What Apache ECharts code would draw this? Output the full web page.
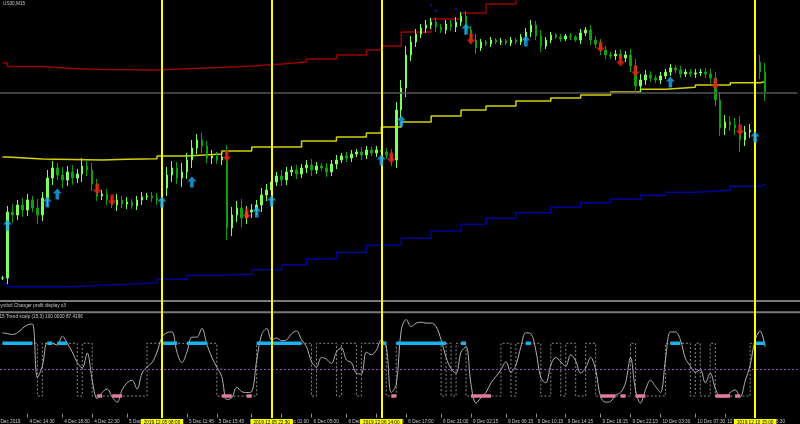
<!DOCTYPE html>
<html><head><meta charset="utf-8">
<script src="https://cdn.jsdelivr.net/npm/echarts@6/dist/echarts.min.js"></script>
<style>html,body{margin:0;padding:0;background:#000;}#c{width:800px;height:424px;}</style>
</head><body><div id="c"></div>
<script>
// ---- data ----
const barCount = 160;
const closes = [
27622,27688,27685,27695,27690,27700,27692,27685,27702,27722,
27732,27725,27720,27728,27722,27726,27734,27730,27716,27704,
27706,27700,27695,27700,27696,27698,27694,27700,27703,27704,
27702,27700,27712,27725,27732,27722,27728,27740,27752,27760,
27754,27742,27744,27740,27743,27672,27685,27692,27682,27688,
27690,27695,27705,27710,27718,27724,27720,27728,27730,27726,
27732,27735,27730,27734,27732,27728,27736,27740,27744,27742,
27746,27748,27745,27750,27747,27750,27748,27745,27740,27790,
27812,27845,27858,27866,27872,27875,27878,27873,27870,27876,
27873,27878,27884,27870,27860,27852,27858,27856,27860,27858,
27859,27857,27860,27858,27863,27868,27875,27864,27854,27860,
27865,27863,27861,27864,27863,27860,27867,27870,27860,27856,
27850,27845,27844,27846,27842,27845,27834,27814,27820,27825,
27822,27820,27824,27828,27832,27830,27826,27828,27826,27827,
27828,27826,27822,27800,27772,27778,27775,27772,27760,27768,
27770,27838,27828,27808];
// high/low reach of each bar beyond its open/close
const barReach = [
2,6,8,5,7,6,4,9,6,8,
7,5,8,6,7,5,8,6,7,5,
4,5,3,6,4,5,3,4,5,3,
4,5,6,8,7,6,9,7,8,6,
7,5,6,4,5,12,8,7,9,6,
6,5,7,6,5,4,6,5,4,5,
4,5,6,4,3,5,4,5,3,4,
4,3,5,4,3,4,5,4,6,8,
8,9,6,5,4,5,4,5,3,4,
4,5,4,5,4,6,3,2,3,2,
3,2,3,2,3,4,5,4,6,3,
3,2,3,2,3,2,4,3,5,4,
5,4,3,4,5,4,6,7,6,5,
4,3,4,3,4,3,4,3,3,4,
3,4,5,6,8,7,6,7,12,6,
6,8,7,9];
const upperBand = [[0,27837],[1,27833.5],[8,27831.5],[14,27830.5],[20,27830],[31,27831.5],[38,27832.5],[44,27834],[50,27836],[56,27838],[61,27841],[67,27845],[73,27850],[76,27854],[80,27868],[86,27881],[92,27887],[97,27896],[103,27905],[153,27905]];
const middleBand = [[0,27743],[1,27741],[8,27740],[20,27740.7],[25,27741.3],[31,27744],[37,27746],[44,27749],[50,27753],[60,27759],[67,27763],[73,27767],[76,27773],[80,27778],[86,27784],[92,27790],[97,27794],[103,27799],[110,27802],[116,27805],[122,27808],[128,27810.7],[133,27812.7],[139,27815],[146,27817.3],[152,27818.3],[153,27818.3]];
const lowerBand = [[0,27616],[1,27613.3],[14,27614.7],[20,27615.7],[25,27617.3],[31,27620.7],[37,27624.7],[44,27625.7],[50,27630.3],[56,27635.3],[61,27641],[67,27647.7],[73,27654.7],[80,27661.7],[86,27669],[92,27675.7],[97,27681.7],[103,27687.3],[110,27692.7],[116,27697.3],[122,27700.7],[128,27704.7],[133,27707.7],[139,27709.7],[146,27713.7],[152,27715.7],[153,27715.7]];
const upArrows = [[1,27675],[9,27698],[11,27706],[32,27698],[38,27718],[51,27688],[54,27699],[76,27740],[80,27779],[93,27871],[105,27859],[134,27818],[151,27763]];
const downArrows = [[19,27711],[22,27700],[45,27744],[49,27686],[78,27742],[94,27861],[120,27853],[124,27839],[127,27829],[143,27816],[148,27770]];
const blueDots = [[86,27895],[87,27889],[91,27891]];
const bidPrice = 27807;

const trendScalp = [
92,91,90,92,97,101,102,41,54,81,
80,78,88,80,70,58,52,69,38,17,
24,28,19,13,27,35,38,28,46,53,
58,70,87,92,93,70,58,70,87,87,
97,79,64,53,42,16,18,30,25,24,
25,61,90,97,84,86,83,84,91,94,
84,76,59,53,64,62,57,70,75,61,
58,46,45,70,67,72,84,76,24,33,
95,107,99,103,104,103,103,99,84,64,
51,46,70,76,33,12,18,24,35,42,
50,59,47,55,76,92,91,72,41,35,
55,64,59,54,67,60,46,52,64,50,
19,13,14,21,24,35,64,27,12,27,
38,31,24,61,93,93,84,63,54,47,
50,35,46,29,19,19,24,27,19,37,
55,84,94,76];
const trendState = [[0,80],[7,20],[8,80],[15,20],[16,80],[18,20],[29,80],[43,20],[51,80],[62,20],[63,80],[67,20],[68,80],[71,20],[72,80],[77,20],[79,80],[88,20],[89,80],[90,20],[91,80],[93,20],[100,80],[102,20],[103,80],[108,20],[110,80],[112,20],[113,80],[115,20],[117,80],[119,20],[126,80],[127,20],[133,80],[138,20],[139,80],[140,20],[142,80],[143,20],[150,80],[153,80]];
const upLevel = 80, downLevel = 20, midLevel = 50;
const upSegments = [[0,6],[9,10],[11,13],[32,35],[37,41],[51,60],[76,77],[79,89],[92,93],[105,106],[134,136],[151,153]];
const downSegments = [[19,20],[22,24],[44,46],[49,50],[78,79],[94,98],[120,123],[124,125],[127,129],[143,146],[147,148]];

const firstDateLabel = '4 Dec 2019';
const timeTicks = [[5,'4 Dec 14:30'],[12,'4 Dec 18:30'],[18,'4 Dec 22:30'],[25,'5 Dec 03:15'],[37,'5 Dec 11:45'],[43,'5 Dec 15:45'],[50,'5 Dec 19:45'],[56,'6 Dec 01:00'],[62,'6 Dec 05:00'],[69,'6 Dec 09:00'],[75,'6 Dec 13:00'],[81,'6 Dec 17:00'],[88,'6 Dec 21:00'],[94,'9 Dec 02:15'],[101,'9 Dec 06:15'],[107,'9 Dec 10:15'],[113,'9 Dec 14:15'],[120,'9 Dec 18:15'],[126,'9 Dec 22:15'],[132,'10 Dec 03:30'],[139,'10 Dec 07:30'],[145,'10 Dec 11:30'],[151,'10 Dec 15:30']];
const vlineBars = [32,54,76,151];
const vlineTimes = ['2019.12.05 08:00','2019.12.05 22:30','2019.12.06 14:00','2019.12.10 15:00'];

// ---- build ----
const cats = Array.from({length: barCount}, (_, i) => String(i));
const tickMap = new Map(timeTicks);
const candles = closes.map((c, i) => {
  const o = i ? closes[i - 1] : c;
  return [o, c, Math.min(o, c) - barReach[i], Math.max(o, c) + barReach[i]];
});
function segs(list, level) {
  const out = [];
  list.forEach(([a, b]) => { out.push([a, level], [b, level], [b, '-']); });
  return out;
}
const FONT = 'Liberation Sans';
const fs = 4.7;
const showTick = (idx) => tickMap.has(idx);
const arrowPath = 'path://M4.5,0 L9,5 L6.3,5 L6.3,11 L2.7,11 L2.7,5 L0,5 Z';

const chart = echarts.init(document.getElementById('c'), null, {renderer: 'canvas'});
chart.setOption({
  animation: false,
  backgroundColor: '#000000',
  textStyle: {fontFamily: FONT},
  grid: [
    {left: -2.5, right: 2.5, top: 0, height: 313},
    {left: -2.5, right: 2.5, top: 313, height: 105}
  ],
  xAxis: [
    {type: 'category', data: cats, gridIndex: 0, boundaryGap: true, show: false},
    {type: 'category', data: cats, gridIndex: 1, boundaryGap: true,
      axisLine: {show: false},
      axisTick: {show: true, interval: showTick, alignWithLabel: true, length: 4, lineStyle: {color: '#8a8a8a'}},
      axisLabel: {show: true, interval: showTick, align: 'left', margin: 1, padding: [0,0,0,2],
        color: '#c8c8c8', fontSize: fs, fontFamily: FONT,
        formatter: (v) => tickMap.get(Number(v)) || ''},
      splitLine: {show: false}}
  ],
  yAxis: [
    {type: 'value', gridIndex: 0, min: 27587, max: 27900, show: false},
    {type: 'value', gridIndex: 1, min: -5, max: 114.5, show: false}
  ],
  graphic: [
    {type: 'line', z: 0, shape: {x1: 0, y1: 301, x2: 800, y2: 301}, style: {stroke: '#7a7a7a', lineWidth: 2}},
    {type: 'line', z: 0, shape: {x1: 0, y1: 312.3, x2: 800, y2: 312.3}, style: {stroke: '#7a7a7a', lineWidth: 2}},
    {type: 'text', z: 100, x: 3, y: 4, style: {text: 'US30,M15', fill: '#c8c8c8', fontSize: fs, fontFamily: FONT, verticalAlign: 'middle'}},
    {type: 'text', z: 100, x: -3, y: 305.8, style: {text: 'Symbol Changer profit display x3', fill: '#c8c8c8', fontSize: fs, fontFamily: FONT, verticalAlign: 'middle'}},
    {type: 'text', z: 100, x: -4.5, y: 317, style: {text: 'M15 Trend scalp (15,3) 100.0000 87.4196', fill: '#c8c8c8', fontSize: fs, fontFamily: FONT, verticalAlign: 'middle'}},
    {type: 'text', z: 100, x: -3.5, y: 421.5, style: {text: firstDateLabel, fill: '#c8c8c8', fontSize: fs, fontFamily: FONT, verticalAlign: 'middle'}}
  ],
  series: [
    {type: 'line', name: 'upper', xAxisIndex: 0, yAxisIndex: 0, data: upperBand, step: 'end', symbol: 'none',
      lineStyle: {color: '#9a0000', width: 1.5}, z: 2},
    {type: 'line', name: 'middle', xAxisIndex: 0, yAxisIndex: 0, data: middleBand, step: 'end', symbol: 'none',
      lineStyle: {color: '#d2d200', width: 1.5}, z: 2},
    {type: 'line', name: 'lower', xAxisIndex: 0, yAxisIndex: 0, data: lowerBand, step: 'end', symbol: 'none',
      lineStyle: {color: '#00009c', width: 1.5}, z: 2},
    {type: 'candlestick', name: 'US30', xAxisIndex: 0, yAxisIndex: 0, data: candles, barWidth: 2,
      itemStyle: {color: '#7cff5c', color0: '#0ca00c', borderColor: '#7cff5c', borderColor0: '#0ca00c', borderWidth: 1},
      markLine: {silent: true, symbol: ['none','none'], label: {show: false},
        lineStyle: {color: '#555555', width: 1.5, type: 'solid'},
        data: [{yAxis: bidPrice}]},
      z: 3},
    {type: 'scatter', name: 'up', xAxisIndex: 0, yAxisIndex: 0, data: upArrows,
      symbol: arrowPath, symbolSize: [9, 11],
      itemStyle: {color: '#1ea8ee'}, z: 5},
    {type: 'scatter', name: 'down', xAxisIndex: 0, yAxisIndex: 0, data: downArrows,
      symbol: arrowPath, symbolSize: [9, 11], symbolRotate: 180,
      itemStyle: {color: '#f01a1a'}, z: 5},
    {type: 'scatter', name: 'dots', xAxisIndex: 0, yAxisIndex: 0, data: blueDots, symbolSize: 2.5,
      itemStyle: {color: '#1010c8'}, z: 5},
    {type: 'line', name: 'vlines0', xAxisIndex: 0, yAxisIndex: 0, data: [], z: 10,
      markLine: {silent: true, symbol: ['none','none'], label: {show: false},
        lineStyle: {color: '#ffff00', width: 2, type: 'solid'},
        data: vlineBars.map(b => ({xAxis: b}))}},
    // indicator
    {type: 'line', name: 'state', xAxisIndex: 1, yAxisIndex: 1, data: trendState, step: 'end', symbol: 'none',
      lineStyle: {color: '#8a8a8a', width: 1, type: [2, 2]}, z: 2,
      markLine: {silent: true, symbol: ['none','none'], label: {show: false},
        lineStyle: {color: '#9b45c8', width: 1, type: [2, 2]},
        data: [{yAxis: midLevel}]}},
    {type: 'line', name: 'scalp', xAxisIndex: 1, yAxisIndex: 1, data: trendScalp, symbol: 'none', smooth: 0.35,
      lineStyle: {color: '#b0b0b0', width: 1}, z: 3},
    {type: 'line', name: 'upSig', xAxisIndex: 1, yAxisIndex: 1, data: segs(upSegments, upLevel), symbol: 'none',
      connectNulls: false, lineStyle: {color: '#18b4f0', width: 3.5, cap: 'butt'}, z: 4},
    {type: 'line', name: 'downSig', xAxisIndex: 1, yAxisIndex: 1, data: segs(downSegments, downLevel), symbol: 'none',
      connectNulls: false, lineStyle: {color: '#e47aa2', width: 3.5, cap: 'butt'}, z: 4},
    {type: 'line', name: 'vlines1', xAxisIndex: 1, yAxisIndex: 1, data: [], z: 10,
      markLine: {silent: true, symbol: ['none','none'],
        lineStyle: {color: '#ffff00', width: 2, type: 'solid'},
        label: {show: true, position: 'start', distance: 1, backgroundColor: '#ffff00', color: '#000000',
          fontSize: fs, fontFamily: FONT, padding: [1, 3, 1, 3]},
        data: vlineBars.map((b, k) => ({xAxis: b, label: {formatter: vlineTimes[k]}}))}}
  ]
});
</script>
</body></html>
